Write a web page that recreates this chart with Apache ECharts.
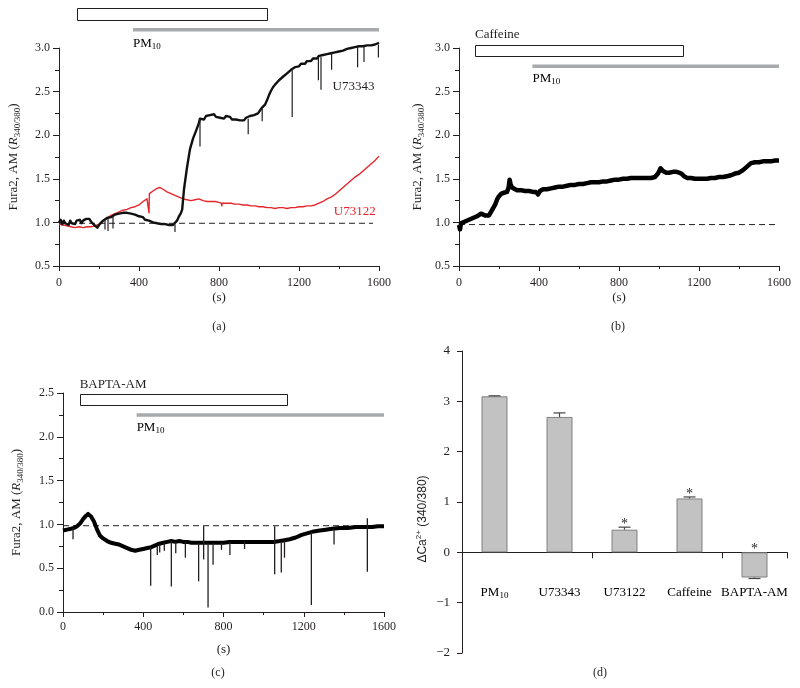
<!DOCTYPE html>
<html>
<head>
<meta charset="utf-8">
<script src="https://cdn.jsdelivr.net/npm/echarts@6/dist/echarts.min.js"></script>
<style>
html,body{margin:0;padding:0;background:#fff;}
#main{width:800px;height:688px;}
</style>
</head>
<body>
<div id="main"></div>
<script>
// ---------------- DATA ----------------
const timeTicks = [0, 400, 800, 1200, 1600];

// Panel (a): U73343 (black) and U73122 (red)
const aU73343 = [
[0,1.00],[8,1.03],[16,0.98],[24,1.02],[32,0.99],[40,1.01],[48,0.97],[56,1.02],[64,0.99],[72,1.01],[80,0.98],[88,1.02],[96,1.00],[104,1.03],[112,0.99],[120,1.02],[128,1.01],[136,1.04],[144,1.02],[152,1.04],[160,1.01],[168,0.99],[176,0.97],[184,0.95],[192,0.94],[200,0.97],[210,0.99],[220,1.02],[230,1.03],[240,1.05],[250,1.04],[260,1.06],[270,1.07],[280,1.09],[290,1.08],[300,1.10],[310,1.09],[320,1.11],[330,1.10],[340,1.11],[350,1.09],[360,1.10],[370,1.08],[380,1.09],[390,1.07],[400,1.07],[410,1.05],[420,1.06],[430,1.03],[440,1.04],[450,1.02],[460,1.02],[470,1.00],[480,1.01],[490,0.99],[500,1.00],[510,0.98],[520,0.99],[530,0.98],[540,0.99],[550,0.97],[560,0.98],[570,0.97],[580,0.98],[590,1.02],[600,1.07],[610,1.11],[616,1.15],[625,1.38],[640,1.63],[655,1.84],[670,1.96],[685,2.05],[698,2.13],[705,2.19],[715,2.21],[725,2.18],[735,2.22],[745,2.20],[755,2.23],[765,2.21],[775,2.24],[785,2.21],[795,2.23],[805,2.20],[815,2.22],[825,2.19],[835,2.22],[845,2.20],[855,2.21],[865,2.18],[875,2.20],[885,2.18],[895,2.19],[905,2.17],[915,2.19],[925,2.17],[935,2.20],[945,2.19],[955,2.22],[965,2.20],[975,2.23],[985,2.22],[995,2.25],[1005,2.27],[1013,2.31],[1022,2.30],[1030,2.35],[1040,2.40],[1050,2.46],[1060,2.51],[1070,2.55],[1080,2.58],[1090,2.60],[1100,2.63],[1110,2.64],[1120,2.67],[1130,2.69],[1140,2.71],[1150,2.73],[1160,2.75],[1170,2.77],[1180,2.78],[1190,2.80],[1200,2.79],[1210,2.82],[1220,2.83],[1230,2.82],[1240,2.85],[1250,2.86],[1260,2.85],[1270,2.88],[1280,2.89],[1290,2.88],[1300,2.91],[1310,2.90],[1320,2.92],[1330,2.91],[1340,2.93],[1350,2.92],[1360,2.94],[1370,2.93],[1380,2.95],[1390,2.94],[1400,2.96],[1410,2.95],[1420,2.97],[1430,2.96],[1440,2.99],[1450,2.98],[1460,3.00],[1470,2.99],[1480,3.01],[1490,3.00],[1500,3.02],[1510,3.01],[1520,3.02],[1530,3.01],[1540,3.03],[1550,3.02],[1560,3.03],[1570,3.02],[1580,3.04],[1590,3.03],[1600,3.06]
];
// [time, from, to] transient spikes of the U73343 trace
const aU73343Spikes = [
[230,1.03,0.92],[245,1.04,0.90],[270,1.07,0.93],[580,0.98,0.89],[705,2.19,1.87],[946,2.19,2.01],[1016,2.30,2.16],[1166,2.76,2.21],[1297,2.90,2.63],[1310,2.90,2.52],[1363,2.94,2.75],[1493,3.01,2.78],[1525,3.02,2.84],[1597,3.04,2.89]
];
const aU73122 = [
[0,0.98],[20,0.97],[40,0.96],[60,0.95],[80,0.94],[100,0.95],[120,0.94],[140,0.95],[160,0.95],[180,0.96],[200,0.98],[220,1.02],[240,1.05],[260,1.08],[280,1.10],[300,1.12],[320,1.14],[340,1.15],[360,1.17],[380,1.18],[400,1.20],[420,1.24],[440,1.27],[448,1.29],[450,1.11],[452,1.33],[470,1.36],[490,1.39],[505,1.40],[520,1.38],[540,1.35],[560,1.33],[580,1.31],[600,1.29],[620,1.27],[640,1.26],[660,1.25],[680,1.26],[700,1.27],[720,1.25],[740,1.24],[760,1.24],[780,1.24],[800,1.23],[812,1.22],[814,1.19],[816,1.22],[840,1.22],[860,1.22],[880,1.21],[900,1.21],[920,1.20],[940,1.20],[960,1.19],[980,1.19],[1000,1.18],[1020,1.18],[1040,1.17],[1060,1.17],[1080,1.16],[1100,1.17],[1120,1.17],[1140,1.16],[1160,1.17],[1180,1.17],[1200,1.18],[1220,1.18],[1240,1.19],[1260,1.19],[1280,1.20],[1300,1.22],[1320,1.24],[1340,1.27],[1360,1.29],[1380,1.32],[1400,1.36],[1420,1.40],[1440,1.44],[1460,1.48],[1480,1.52],[1500,1.55],[1520,1.59],[1540,1.63],[1560,1.67],[1580,1.71],[1600,1.76]
];
const aBaseline = [[0,0.99],[1570,0.99]];
const aDrugWindow = [90, 1040];
const aPMWindow = [370, 1600];
const aTraceLabels = ['U73343', 'U73122'];
const aTraceLabelAt = [[1368, 2.56], [1374, 1.12]];

// Panel (b): Caffeine
const bCaffeine = [
[0,0.97],[5,0.92],[10,0.99],[20,1.00],[30,1.01],[40,1.02],[50,1.03],[60,1.03],[70,1.05],[80,1.06],[90,1.07],[100,1.08],[110,1.10],[120,1.09],[130,1.08],[140,1.07],[150,1.08],[160,1.12],[170,1.16],[180,1.20],[190,1.26],[200,1.30],[212,1.33],[225,1.34],[240,1.35],[248,1.40],[253,1.49],[258,1.44],[265,1.40],[275,1.38],[290,1.37],[310,1.37],[330,1.36],[350,1.36],[370,1.35],[385,1.35],[395,1.32],[405,1.36],[420,1.38],[440,1.38],[460,1.39],[480,1.40],[500,1.41],[520,1.41],[540,1.42],[560,1.43],[580,1.43],[600,1.44],[620,1.44],[640,1.45],[660,1.46],[680,1.46],[700,1.46],[720,1.47],[740,1.47],[760,1.48],[780,1.49],[800,1.49],[820,1.50],[840,1.50],[860,1.51],[880,1.51],[900,1.51],[920,1.51],[940,1.51],[960,1.51],[980,1.52],[995,1.56],[1008,1.62],[1020,1.59],[1037,1.57],[1050,1.57],[1070,1.58],[1087,1.58],[1100,1.57],[1112,1.56],[1125,1.53],[1140,1.51],[1160,1.51],[1180,1.50],[1200,1.50],[1220,1.50],[1240,1.50],[1260,1.51],[1280,1.51],[1300,1.52],[1320,1.52],[1340,1.53],[1360,1.54],[1380,1.56],[1400,1.57],[1420,1.60],[1440,1.64],[1460,1.68],[1480,1.69],[1500,1.69],[1520,1.70],[1540,1.70],[1560,1.70],[1580,1.71],[1590,1.73],[1600,1.71]
];
const bBaseline = [[0,0.975],[1600,0.975]];
const bDrugWindow = [80, 1120];
const bPMWindow = [367, 1600];

// Panel (c): BAPTA-AM
const cBapta = [
[0,0.93],[20,0.94],[40,0.95],[55,0.96],[70,0.98],[85,1.01],[100,1.06],[115,1.10],[125,1.12],[140,1.09],[155,1.03],[170,0.94],[185,0.87],[200,0.84],[220,0.81],[240,0.79],[260,0.78],[280,0.77],[300,0.75],[320,0.73],[340,0.71],[360,0.70],[380,0.71],[400,0.72],[420,0.73],[440,0.74],[460,0.76],[480,0.78],[500,0.79],[520,0.80],[540,0.81],[560,0.80],[580,0.81],[600,0.80],[620,0.80],[640,0.79],[660,0.79],[680,0.79],[700,0.79],[720,0.79],[740,0.79],[760,0.79],[780,0.79],[800,0.79],[830,0.80],[860,0.80],[900,0.80],[940,0.80],[980,0.80],[1020,0.80],[1050,0.80],[1080,0.81],[1105,0.82],[1130,0.83],[1160,0.85],[1190,0.88],[1220,0.90],[1250,0.92],[1280,0.93],[1310,0.94],[1340,0.95],[1380,0.96],[1420,0.96],[1460,0.97],[1500,0.97],[1540,0.97],[1570,0.98],[1600,0.98]
];
// [time, from, to] transient spikes of the BAPTA-AM trace
const cSpikes = [
[50,0.96,0.83],[437,0.74,0.30],[470,0.76,0.65],[482,0.78,0.68],[505,0.79,0.70],[540,0.81,0.29],[562,0.80,0.67],[610,0.80,0.62],[676,0.79,0.35],[701,0.98,0.60],[723,0.79,0.05],[748,0.79,0.54],[790,0.79,0.71],[832,0.80,0.65],[905,0.80,0.72],[1055,0.98,0.43],[1088,0.81,0.45],[1104,0.82,0.62],[1238,0.91,0.08],[1351,0.95,0.77],[1517,1.07,0.46]
];
const cBaseline = [[0,0.985],[1575,0.985]];
const cDrugWindow = [83, 1117];
const cPMWindow = [367, 1600];

// Panel (d): bar chart
const dCategories = ['PM10', 'U73343', 'U73122', 'Caffeine', 'BAPTA-AM'];
const dValues = [3.10, 2.69, 0.45, 1.07, -0.50];
const dErrors = [0.01, 0.08, 0.05, 0.03, 0.02];
const dSignificant = [0, 0, 1, 1, 1];

// ---------------- STYLE / BUILD ----------------
const SERIF = "'Liberation Serif','DejaVu Serif',serif";
const SANS = "'Liberation Sans','DejaVu Sans',sans-serif";
const INK = '#231f20';
const RED = '#e5242b';
const GREYBAR = '#a7a9ac';

const PM_RICH = {
  n: {fontSize: 13, fontFamily: SERIF, color: INK, lineHeight: 16},
  s: {fontSize: 9, fontFamily: SERIF, color: INK, verticalAlign: 'bottom', lineHeight: 9}
};

function xAxisFor(gridIndex, nameGap, labelMargin) {
  return {
    type: 'value', gridIndex, min: timeTicks[0], max: timeTicks[timeTicks.length - 1], interval: timeTicks[1] - timeTicks[0],
    axisLine: {show: true, onZero: false, lineStyle: {color: INK, width: 1}},
    axisTick: {show: true, length: 5, lineStyle: {color: INK}},
    minorTick: {show: true, splitNumber: 2, length: 3, lineStyle: {color: INK}},
    splitLine: {show: false}, minorSplitLine: {show: false},
    axisLabel: {color: INK, fontSize: 12, fontFamily: SERIF, margin: labelMargin, formatter: v => String(v)},
    name: '(s)', nameLocation: 'middle', nameGap,
    nameTextStyle: {color: INK, fontSize: 13, fontFamily: SERIF}
  };
}
function yAxisFor(gridIndex, min, max, nameGap) {
  return {
    type: 'value', gridIndex, min, max, interval: 0.5,
    axisLine: {show: true, onZero: false, lineStyle: {color: INK, width: 1}},
    axisTick: {show: true, length: 6, lineStyle: {color: INK}},
    minorTick: {show: true, splitNumber: 2, length: 4, lineStyle: {color: INK}},
    splitLine: {show: false}, minorSplitLine: {show: false},
    axisLabel: {color: INK, fontSize: 12, fontFamily: SERIF, margin: 9, formatter: v => v.toFixed(1)},
    name: 'Fura2, AM ({i|R}{s|340/380})', nameLocation: 'middle', nameGap,
    nameTextStyle: {
      color: INK, fontSize: 13, fontFamily: SERIF, lineHeight: 16,
      rich: {
        i: {fontStyle: 'italic', fontSize: 13, fontFamily: SERIF, color: INK, lineHeight: 16},
        s: {fontSize: 9, fontFamily: SERIF, color: INK, verticalAlign: 'bottom', lineHeight: 9}
      }
    }
  };
}
function traceSeries(gi, data, color, width) {
  return {type: 'line', xAxisIndex: gi, yAxisIndex: gi, data, showSymbol: false, symbol: 'none',
    clip: false, silent: true, lineStyle: {color, width, join: 'round'}, z: 3};
}
function baselineSeries(gi, data) {
  return {type: 'line', xAxisIndex: gi, yAxisIndex: gi, data, showSymbol: false, symbol: 'none', silent: true,
    lineStyle: {color: INK, width: 1, type: [6, 4]}, z: 2};
}
function spikeSeries(gi, data, width) {
  return {
    type: 'custom', xAxisIndex: gi, yAxisIndex: gi, data, clip: false, silent: true, z: 4,
    renderItem(params, api) {
      const p0 = api.coord([api.value(0), api.value(1)]);
      const p1 = api.coord([api.value(0), api.value(2)]);
      return {type: 'line', shape: {x1: p0[0], y1: p0[1], x2: p1[0], y2: p1[1]}, style: {stroke: INK, lineWidth: width}};
    }
  };
}
function annotationSeries(gi, drugWin, pmWin, lv, drugLabel) {
  return {
    type: 'custom', xAxisIndex: gi, yAxisIndex: gi, clip: false, silent: true, z: 5,
    data: [[drugWin[0], lv.bar]],
    renderItem(params, api) {
      const b0 = api.coord([drugWin[0], lv.boxTop]);
      const b1 = api.coord([drugWin[1], lv.boxBottom]);
      const g0 = api.coord([pmWin[0], lv.bar]);
      const g1 = api.coord([pmWin[1], lv.bar]);
      const pl = api.coord([pmWin[0], lv.pmLabel]);
      const children = [
        {type: 'rect', shape: {x: Math.round(b0[0]) + 0.5, y: Math.round(b0[1]) + 0.5,
          width: Math.round(b1[0] - b0[0]), height: Math.round(b1[1] - b0[1])},
          style: {fill: '#fff', stroke: INK, lineWidth: 1}},
        {type: 'line', shape: {x1: g0[0], y1: g0[1], x2: g1[0], y2: g1[1]}, style: {stroke: GREYBAR, lineWidth: 3.5}},
        {type: 'text', x: pl[0], y: pl[1], style: {text: '{n|PM}{s|10}', rich: PM_RICH, align: 'left', verticalAlign: 'middle'}}
      ];
      if (drugLabel) {
        const dl = api.coord([drugWin[0], lv.drugLabel]);
        children.push({type: 'text', x: dl[0], y: dl[1], style: {text: drugLabel, fill: INK, fontSize: 13,
          fontFamily: SERIF, align: 'left', verticalAlign: 'middle'}});
      }
      return {type: 'group', children};
    }
  };
}

const traceLabelSeries = {
  type: 'custom', xAxisIndex: 0, yAxisIndex: 0, clip: false, silent: true, z: 6,
  data: aTraceLabelAt.map((p, i) => [p[0], p[1], i]),
  renderItem(params, api) {
    const p = api.coord([api.value(0), api.value(1)]);
    const i = api.value(2);
    return {type: 'text', x: p[0], y: p[1], style: {text: aTraceLabels[i], fill: i === 0 ? INK : RED,
      fontSize: 13, fontFamily: SERIF, align: 'left', verticalAlign: 'middle'}};
  }
};

const errorSeries = {
  type: 'custom', xAxisIndex: 3, yAxisIndex: 3, clip: false, silent: true, z: 6,
  data: dValues.map((v, i) => [i, v, dErrors[i], dSignificant[i]]),
  renderItem(params, api) {
    const i = api.value(0), v = api.value(1), e = api.value(2), sig = api.value(3);
    const end = v >= 0 ? v + e : v - e;
    const p0 = api.coord([i, v]);
    const p1 = api.coord([i, end]);
    const children = [
      {type: 'line', shape: {x1: p0[0], y1: p0[1], x2: p1[0], y2: p1[1]}, style: {stroke: '#444', lineWidth: 1.2}},
      {type: 'line', shape: {x1: p1[0] - 6, y1: p1[1], x2: p1[0] + 6, y2: p1[1]}, style: {stroke: '#444', lineWidth: 1.2}}
    ];
    if (sig) {
      const ps = api.coord([i, Math.max(end, 0)]);
      children.push({type: 'text', x: ps[0], y: ps[1] - 10, style: {text: '*', fill: INK, fontSize: 14,
        fontFamily: SERIF, align: 'center', verticalAlign: 'top'}});
    }
    return {type: 'group', children};
  }
};

// category names drawn just below the zero line of panel (d)
const categoryLabelSeries = {
  type: 'custom', xAxisIndex: 3, yAxisIndex: 3, clip: false, silent: true, z: 6,
  data: dCategories.map((c, i) => [i, 0]),
  renderItem(params, api) {
    const i = api.value(0);
    const p = api.coord([i, 0]);
    const c = dCategories[i];
    const txt = c === 'PM10' ? '{n|PM}{s|10}' : '{n|' + c + '}';
    return {type: 'text', x: p[0], y: p[1] + 40, style: {text: txt, rich: PM_RICH, align: 'center', verticalAlign: 'middle'}};
  }
};

const chart = echarts.init(document.getElementById('main'), null, {renderer: 'canvas'});
chart.setOption({
  animation: false,
  backgroundColor: '#fff',
  grid: [
    {left: 59, top: 48, width: 320, height: 218, outerBoundsMode: 'none', containLabel: false},
    {left: 459, top: 48, width: 320, height: 218, outerBoundsMode: 'none', containLabel: false},
    {left: 63, top: 393, width: 321, height: 219, outerBoundsMode: 'none', containLabel: false},
    {left: 462, top: 351, width: 325, height: 302, outerBoundsMode: 'none', containLabel: false}
  ],
  xAxis: [
    xAxisFor(0, 25, 11),
    xAxisFor(1, 25, 11),
    xAxisFor(2, 31, 9),
    {
      type: 'category', gridIndex: 3, data: dCategories,
      axisLine: {show: true, onZero: true, lineStyle: {color: INK, width: 1}},
      axisTick: {show: true, length: 6, alignWithLabel: false, lineStyle: {color: INK}},
      splitLine: {show: false},
      axisLabel: {show: false}
    }
  ],
  yAxis: [
    yAxisFor(0, 0.5, 3.0, 37),
    yAxisFor(1, 0.5, 3.0, 33),
    yAxisFor(2, 0.0, 2.5, 38),
    {
      type: 'value', gridIndex: 3, min: -2, max: 4, interval: 1,
      axisLine: {show: true, onZero: false, lineStyle: {color: INK, width: 1}},
      axisTick: {show: true, length: 5, lineStyle: {color: INK}},
      splitLine: {show: false},
      axisLabel: {color: INK, fontSize: 13, fontFamily: SERIF, margin: 12, formatter: v => String(v).replace('-', '\u2212')},
      name: '{a|\u0394Ca}{p|2+}{a| (340/380)}', nameLocation: 'middle', nameGap: 31,
      nameTextStyle: {
        color: INK, fontSize: 12, fontFamily: SANS, padding: [0, 34, 0, 0],
        rich: {
          a: {fontSize: 12, fontFamily: SANS, color: INK, lineHeight: 16},
          p: {fontSize: 8, fontFamily: SANS, color: INK, verticalAlign: 'top', lineHeight: 9}
        }
      }
    }
  ],
  graphic: [
    {type: 'text', x: 219, y: 327, style: {text: '(a)', fill: INK, fontSize: 12, fontFamily: SERIF, align: 'center', verticalAlign: 'middle'}},
    {type: 'text', x: 618, y: 327, style: {text: '(b)', fill: INK, fontSize: 12, fontFamily: SERIF, align: 'center', verticalAlign: 'middle'}},
    {type: 'text', x: 218, y: 673, style: {text: '(c)', fill: INK, fontSize: 12, fontFamily: SERIF, align: 'center', verticalAlign: 'middle'}},
    {type: 'text', x: 600, y: 673, style: {text: '(d)', fill: INK, fontSize: 12, fontFamily: SERIF, align: 'center', verticalAlign: 'middle'}}
  ],
  series: [
    // panel a
    baselineSeries(0, aBaseline),
    traceSeries(0, aU73122, RED, 1.4),
    traceSeries(0, aU73343, '#111', 2.4),
    spikeSeries(0, aU73343Spikes, 1.2),
    annotationSeries(0, aDrugWindow, aPMWindow, {boxTop: 3.455, boxBottom: 3.32, bar: 3.21, pmLabel: 3.055}, null),
    traceLabelSeries,
    // panel b
    baselineSeries(1, bBaseline),
    traceSeries(1, bCaffeine, '#000', 4.5),
    annotationSeries(1, bDrugWindow, bPMWindow, {boxTop: 3.03, boxBottom: 2.905, bar: 2.79, pmLabel: 2.655, drugLabel: 3.15}, 'Caffeine'),
    // panel c
    baselineSeries(2, cBaseline),
    traceSeries(2, cBapta, '#000', 4),
    spikeSeries(2, cSpikes, 1.3),
    annotationSeries(2, cDrugWindow, cPMWindow, {boxTop: 2.49, boxBottom: 2.365, bar: 2.25, pmLabel: 2.105, drugLabel: 2.60}, 'BAPTA-AM'),
    // panel d
    {type: 'bar', xAxisIndex: 3, yAxisIndex: 3, data: dValues, barWidth: 26, silent: true,
      itemStyle: {color: '#c2c2c2', borderColor: '#808080', borderWidth: 1}},
    errorSeries,
    categoryLabelSeries
  ]
});
</script>
</body>
</html>
